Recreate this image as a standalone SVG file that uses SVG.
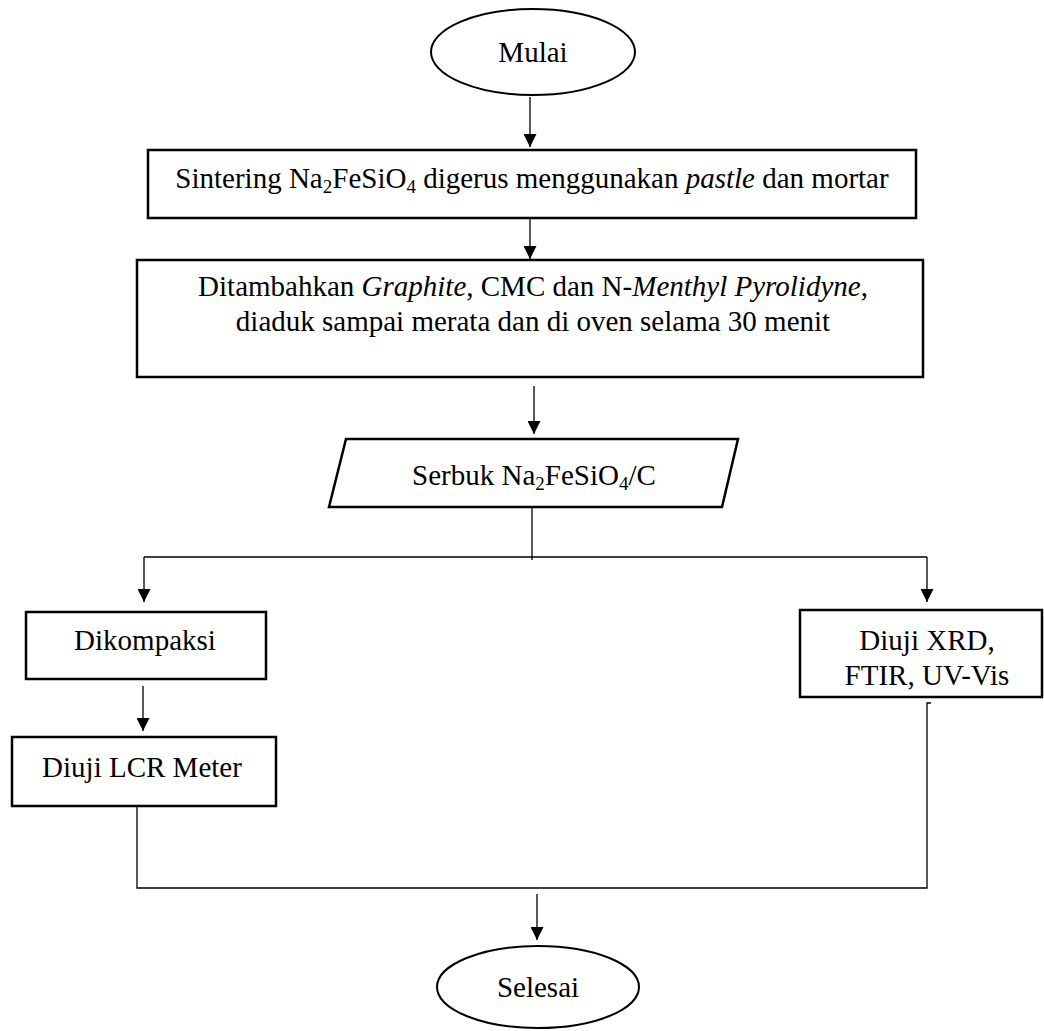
<svg xmlns="http://www.w3.org/2000/svg" width="1044" height="1031" viewBox="0 0 1044 1031">
<style>
  .box { fill: #ffffff; stroke: #000000; stroke-width: 2.5; }
  .term { fill: #ffffff; stroke: #000000; stroke-width: 2; }
  .conn { fill: none; stroke: #000000; stroke-width: 1.3; }
  .lbl { font-family: "Liberation Serif", "Times New Roman", serif; font-size: 29px; fill: #000000; text-anchor: middle; }
  .sub { font-size: 19px; }
</style>
<defs>
  <marker id="arr" viewBox="0 0 10 10" refX="10" refY="5" markerWidth="15" markerHeight="13" markerUnits="userSpaceOnUse" orient="auto">
    <path d="M0,0 L10,5 L0,10 z" fill="#000000"/>
  </marker>
</defs>
<rect width="1044" height="1031" fill="#ffffff"/>

<g id="connectors">
  <line class="conn" x1="530" y1="97" x2="530" y2="147" marker-end="url(#arr)"/>
  <line class="conn" x1="530" y1="218" x2="530" y2="259" marker-end="url(#arr)"/>
  <line class="conn" x1="534" y1="386" x2="534" y2="434" marker-end="url(#arr)"/>
  <line class="conn" x1="532" y1="507" x2="532" y2="560"/>
  <line class="conn" x1="144" y1="557" x2="927" y2="557"/>
  <line class="conn" x1="144" y1="557" x2="144" y2="602" marker-end="url(#arr)"/>
  <line class="conn" x1="927" y1="557" x2="927" y2="602" marker-end="url(#arr)"/>
  <line class="conn" x1="143" y1="686" x2="143" y2="731" marker-end="url(#arr)"/>
  <path class="conn" d="M137,805 L137,888 L927,888 L927,703 L931,703"/>
  <line class="conn" x1="537" y1="894" x2="537" y2="940" marker-end="url(#arr)"/>
</g>

<g id="mulai">
  <ellipse class="term" cx="533" cy="52" rx="102" ry="43"/>
  <text class="lbl" x="533" y="62">Mulai</text>
</g>

<g id="sintering">
  <rect class="box" x="148" y="150" width="768" height="68"/>
  <text class="lbl" x="532" y="188">Sintering Na<tspan class="sub" dy="5">2</tspan><tspan dy="-5">FeSiO</tspan><tspan class="sub" dy="5">4</tspan><tspan dy="-5"> digerus menggunakan </tspan><tspan font-style="italic">pastle</tspan> dan mortar</text>
</g>

<g id="ditambahkan">
  <rect class="box" x="137" y="260" width="786" height="117"/>
  <text class="lbl" x="533" y="296">Ditambahkan <tspan font-style="italic">Graphite</tspan>, CMC dan N-<tspan font-style="italic">Menthyl Pyrolidyne</tspan>,</text>
  <text class="lbl" x="533" y="331">diaduk sampai merata dan di oven selama 30 menit</text>
</g>

<g id="serbuk">
  <polygon class="box" points="346,439 738,439 722,507 329,507"/>
  <text class="lbl" x="534" y="485">Serbuk Na<tspan class="sub" dy="5">2</tspan><tspan dy="-5">FeSiO</tspan><tspan class="sub" dy="5">4</tspan><tspan dy="-5">/C</tspan></text>
</g>

<g id="dikompaksi">
  <rect class="box" x="26" y="612" width="240" height="67"/>
  <text class="lbl" x="145" y="650">Dikompaksi</text>
</g>

<g id="lcr">
  <rect class="box" x="12" y="737" width="264" height="69"/>
  <text class="lbl" x="142" y="777">Diuji LCR Meter</text>
</g>

<g id="xrd">
  <rect class="box" x="800" y="610" width="242" height="87"/>
  <text class="lbl" x="927" y="650">Diuji XRD,</text>
  <text class="lbl" x="927" y="685">FTIR, UV-Vis</text>
</g>

<g id="selesai">
  <ellipse class="term" cx="538" cy="987" rx="101" ry="41"/>
  <text class="lbl" x="538" y="997">Selesai</text>
</g>
</svg>
